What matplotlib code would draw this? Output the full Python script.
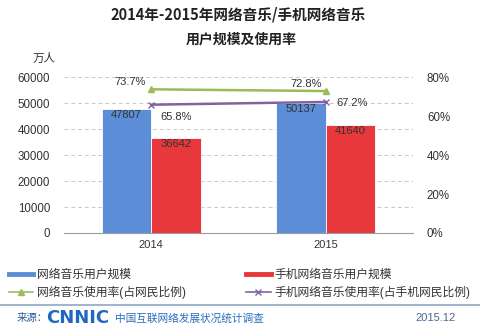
import matplotlib
matplotlib.use('Agg')
import matplotlib.pyplot as plt
from matplotlib.lines import Line2D
import numpy as np

plt.rcParams['font.family'] = ['Liberation Sans', 'Noto Sans CJK SC', 'DejaVu Sans']

years = ['2014', '2015']
music_users = [47807, 50137]
mobile_users = [36642, 41640]
music_rate = [73.7, 72.8]
mobile_rate = [65.8, 67.2]

blue = '#5B8ED6'
red = '#E8383B'
green = '#9BBB59'
purple = '#8064A2'
txt = '#333333'

fig = plt.figure(figsize=(4.8, 3.32), dpi=100)
ax = fig.add_axes([0.1333, 0.2982, 0.7271, 0.4698])
ax2 = ax.twinx()

x = np.arange(len(years))
w = 0.284
b1 = ax.bar(x - w / 2, music_users, w, color=blue, edgecolor='white', linewidth=0.6, zorder=2)
b2 = ax.bar(x + w / 2, mobile_users, w, color=red, edgecolor='white', linewidth=0.6, zorder=2)
for rect, v in zip(list(b1) + list(b2), music_users + mobile_users):
    ax.text(rect.get_x() + rect.get_width() / 2, v - 2500, str(v), ha='center', va='center',
            fontsize=8, color=txt, zorder=3)

ax.set_xlim(-0.5, 1.5)
ax.set_ylim(0, 60000)
ax.set_yticks(range(0, 60001, 10000))
ax.set_xticks(x)
ax.set_xticklabels(years)
ax.yaxis.grid(True, linestyle=(0, (4, 3)), color='#C8C8C8', linewidth=0.7, zorder=0)
ax.set_axisbelow(True)
for s in ['top', 'right', 'left']:
    ax.spines[s].set_visible(False)
    ax2.spines[s].set_visible(False)
ax2.spines['bottom'].set_visible(False)
ax.spines['bottom'].set_color('#9A9AAA')
ax.tick_params(axis='y', length=0, labelsize=8.3, colors=txt, pad=10)
ax.tick_params(axis='x', length=0, labelsize=8, colors=txt, pad=5)

ax2.set_ylim(0, 80)
ax2.set_yticks(range(0, 81, 20))
ax2.set_yticklabels([f'{v}%' for v in range(0, 81, 20)])
ax2.tick_params(axis='y', length=0, labelsize=8.3, colors=txt, pad=10)
ax2.plot(x, music_rate, color=green, linewidth=1.8, marker='^', markersize=5, zorder=4)
ax2.plot(x, mobile_rate, color=purple, linewidth=1.8, marker='x', markersize=5,
         markeredgewidth=1, zorder=4)
ax2.text(x[0] - 0.12, music_rate[0] + 3.5, f'{music_rate[0]}%', ha='center', va='center', fontsize=8, color=txt)
ax2.text(x[1] - 0.11, music_rate[1] + 3.8, f'{music_rate[1]}%', ha='center', va='center', fontsize=8, color=txt)
ax2.text(x[0] + 0.14, mobile_rate[0] - 6.2, f'{mobile_rate[0]}%', ha='center', va='center', fontsize=8, color=txt)
ax2.text(x[1] + 0.15, mobile_rate[1] - 0.3, f'{mobile_rate[1]}%', ha='center', va='center', fontsize=8, color=txt)

fig.text(0.496, 0.955, '2014年-2015年网络音乐/手机网络音乐', ha='center', va='center',
         fontsize=10.5, fontweight='bold', family=['Noto Sans CJK SC'], color='#222222')
fig.text(0.502, 0.88, '用户规模及使用率', ha='center', va='center',
         fontsize=10, fontweight='bold', family=['Noto Sans CJK SC'], color='#222222')
fig.text(0.092, 0.822, '万人', ha='center', va='center', fontsize=8.3, color=txt)

handles = [Line2D([], [], color=blue, linewidth=3.5),
           Line2D([], [], color=green, linewidth=1.2, marker='^', markersize=4),
           Line2D([], [], color=red, linewidth=3.5),
           Line2D([], [], color=purple, linewidth=1.2, marker='x', markersize=4)]
labels = ['网络音乐用户规模', '网络音乐使用率(占网民比例)', '手机网络音乐用户规模', '手机网络音乐使用率(占手机网民比例)']
fig.legend(handles, labels, ncol=2, loc='upper left', bbox_to_anchor=(0.008, 0.205),
           frameon=False, fontsize=8.5, handlelength=2.1, handletextpad=0.3,
           columnspacing=5.1, labelspacing=0.45, borderaxespad=0, labelcolor=txt)

fig.add_artist(Line2D([0.0, 1.0], [0.0813, 0.0813], color='#8FA8C0', linewidth=1.2))
fig.text(0.035, 0.042, '来源：', ha='left', va='center', fontsize=7.5, color='#2A5C9A')
fig.text(0.097, 0.042, 'CNNIC', ha='left', va='center', fontsize=13, fontweight='bold',
         color='#1F68C0', family=['DejaVu Sans'])
fig.text(0.24, 0.042, '中国互联网络发展状况统计调查', ha='left', va='center', fontsize=7.7, color='#2A6CC0')
fig.text(0.95, 0.042, '2015.12', ha='right', va='center', fontsize=8, color='#4A6A90')

fig.savefig('out.png', dpi=100)
